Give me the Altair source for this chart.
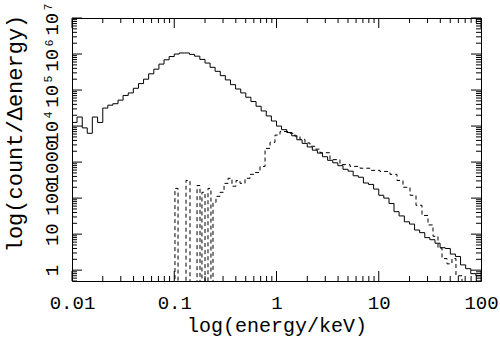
import altair as alt
import pandas as pd

# ---------------- data ----------------
solid_energy = [0.01, 0.0112, 0.0126, 0.0141, 0.0158, 0.0178, 0.02, 0.0224, 0.0251, 0.0282,
                0.0316, 0.0355, 0.0398, 0.0447, 0.0501, 0.0562, 0.0631, 0.0708, 0.0794, 0.0891,
                0.1, 0.112, 0.126, 0.141, 0.158, 0.178, 0.2, 0.224, 0.251, 0.282,
                0.316, 0.355, 0.398, 0.447, 0.501, 0.562, 0.631, 0.708, 0.794, 0.891,
                1, 1.12, 1.26, 1.41, 1.58, 1.78, 2, 2.24, 2.51, 2.82,
                3.16, 3.55, 3.98, 4.47, 5.01, 5.62, 6.31, 7.08, 7.94, 8.91,
                10, 11.2, 12.6, 14.1, 15.8, 17.8, 20, 22.4, 25.1, 28.2,
                31.6, 35.5, 39.8, 44.7, 50.1, 56.2, 63.1, 70.8, 79.4, 89.1, 100]
solid_counts = [12600, 17800, 8900, 6300, 17800, 12600, 31600, 38000, 41700, 52500,
                70800, 83200, 112000, 151000, 200000, 282000, 380000, 525000, 692000, 851000,
                1000000, 1070000, 1070000, 977000, 871000, 708000, 562000, 427000, 331000, 251000,
                191000, 141000, 107000, 83200, 63100, 47900, 35500, 26300, 19100, 13800,
                10000, 7940, 6610, 5370, 4170, 3310, 2630, 2140, 1780, 1410,
                1120, 955, 794, 631, 560, 417, 380, 263, 240, 178,
                120, 100, 71, 42, 32, 22, 19, 13, 11, 8,
                7, 5.6, 4.2, 4, 2.8, 2.4, 1.4, 1.1, 0.8, 0.7, 0.7]

dashed_energy = [0.0995, 0.1016, 0.1089, 0.1303, 0.1426, 0.1671, 0.1786, 0.1866, 0.2, 0.2138,
                 0.2286, 0.2394, 0.256, 0.28, 0.307, 0.336, 0.367, 0.402, 0.44, 0.492,
                 0.551, 0.617, 0.69, 0.773, 0.865, 0.967, 1.082, 1.211, 1.355, 1.516,
                 1.697, 1.899, 2.125, 2.378, 2.663, 3.334, 4.175, 5.233, 6.561, 8.21,
                 10.28, 12.88, 15.07, 17.26, 20.22, 23.14, 26.48, 30.31, 33.94, 37.96,
                 41.56, 46.5, 52.0, 56.9, 65.2, 100]
dashed_counts = [0.1, 186, 0.1, 309, 0.1, 224, 0.1, 145, 0.1, 186,
                 0.1, 76, 112, 145, 257, 355, 214, 309, 257, 355,
                 457, 513, 759, 2400, 3550, 5620, 7080, 7080, 6310, 5250,
                 4270, 3390, 2750, 2290, 1820, 1170, 851, 759, 676, 589,
                 550, 457, 309, 200, 120, 63, 33, 18, 8.7, 4.1,
                 2.1, 1.5, 2.1, 0.7, 0.1, 0.1]

x_major = [0.01, 0.1, 1, 10, 100]
x_minor = [0.02, 0.03, 0.04, 0.05, 0.06, 0.07, 0.08, 0.09,
           0.2, 0.3, 0.4, 0.5, 0.6, 0.7, 0.8, 0.9,
           2, 3, 4, 5, 6, 7, 8, 9,
           20, 30, 40, 50, 60, 70, 80, 90]
x_labels = ["0.01", "0.1", "1", "10", "100"]

y_major = [1, 10, 100, 1000, 10000, 100000, 1000000, 10000000]
y_minor = [0.5, 0.6, 0.7, 0.8, 0.9,
           2, 3, 4, 5, 6, 7, 8, 9,
           20, 30, 40, 50, 60, 70, 80, 90,
           200, 300, 400, 500, 600, 700, 800, 900,
           2000, 3000, 4000, 5000, 6000, 7000, 8000, 9000,
           20000, 30000, 40000, 50000, 60000, 70000, 80000, 90000,
           200000, 300000, 400000, 500000, 600000, 700000, 800000, 900000,
           2000000, 3000000, 4000000, 5000000, 6000000, 7000000, 8000000, 9000000]
y_labels = ["1", "10", "100", "1000", "10⁴", "10⁵", "10⁶", "10⁷"]

# ---------------- layout ----------------
W, H = 409, 263
FONT = "Liberation Mono"
MAJ, MIN = 10, 5

xs = alt.Scale(type="log", domain=[0.01, 100], nice=False)
ys = alt.Scale(type="log", domain=[0.5, 1e7], nice=False)

xlab_expr = "{" + ",".join(f"'{v}':'{l}'" for v, l in zip(["0.01", "0.1", "1", "10", "100"], x_labels)) + "}[datum.label]"
ylab_expr = "{" + ",".join(f"'{int(v)}':'{l}'" for v, l in zip(y_major, y_labels)) + "}[''+datum.value]"

xaxis = alt.Axis(values=x_major, labelExpr=xlab_expr, title="log(energy/keV)",
                 ticks=False, tickSize=0, domain=False, grid=False,
                 labelFont=FONT, labelFontSize=19, labelColor="black",
                 labelPadding=12, labelFlush=False, labelOverlap=False,
                 titleFont=FONT, titleFontSize=20, titleFontWeight="normal", titleColor="black",
                 titleBaseline="alphabetic", titleY=50)
yaxis = alt.Axis(values=y_major, labelExpr=ylab_expr, title="log(count/Δenergy)",
                 ticks=False, tickSize=0, domain=False, grid=False,
                 labelFont=FONT, labelFontSize=19, labelColor="black",
                 labelAngle=270, labelAlign="center", labelBaseline="alphabetic",
                 labelPadding=15, labelFlush=False, labelOverlap=False,
                 titleFont=FONT, titleFontSize=22, titleFontWeight="normal", titleColor="black",
                 titleAngle=270, titleAlign="center", titleBaseline="alphabetic",
                 titleX=-51, titleY=115)


def X(f):
    return alt.X(f, type="quantitative", scale=xs, axis=xaxis)


def Y(f):
    return alt.Y(f, type="quantitative", scale=ys, axis=yaxis)


solid_df = pd.DataFrame({"e": solid_energy, "c": solid_counts})
dashed_df = pd.DataFrame({"e": dashed_energy, "c": dashed_counts})

solid = alt.Chart(solid_df).mark_line(interpolate="step-after", color="black",
                                      strokeWidth=1, clip=True).encode(x=X("e"), y=Y("c"))
dashed = alt.Chart(dashed_df).mark_line(interpolate="step-after", color="black",
                                        strokeWidth=1, strokeDash=[4, 3], clip=True).encode(x=X("e"), y=Y("c"))

layers = [solid, dashed]

for vals, ln in ((x_major, MAJ), (x_minor, MIN)):
    d = pd.DataFrame({"t": vals})
    layers.append(alt.Chart(d).mark_rule(color="black", strokeWidth=1).encode(
        x=X("t"), y=alt.value(H), y2=alt.value(H - ln)))
    layers.append(alt.Chart(d).mark_rule(color="black", strokeWidth=1).encode(
        x=X("t"), y=alt.value(0), y2=alt.value(ln)))

for vals, ln in ((y_major, MAJ), (y_minor, MIN)):
    d = pd.DataFrame({"t": vals})
    layers.append(alt.Chart(d).mark_rule(color="black", strokeWidth=1).encode(
        y=Y("t"), x=alt.value(0), x2=alt.value(ln)))
    layers.append(alt.Chart(d).mark_rule(color="black", strokeWidth=1).encode(
        y=Y("t"), x=alt.value(W), x2=alt.value(W - ln)))

chart = alt.layer(*layers).properties(
    width=W, height=H,
    autosize=alt.AutoSizeParams(type="none"),
    padding={"left": 72, "top": 18, "right": 19, "bottom": 60},
    background="white",
).configure_view(stroke="black", strokeWidth=1)

chart.save("out.html", embed_options={"renderer": "svg", "actions": False})
